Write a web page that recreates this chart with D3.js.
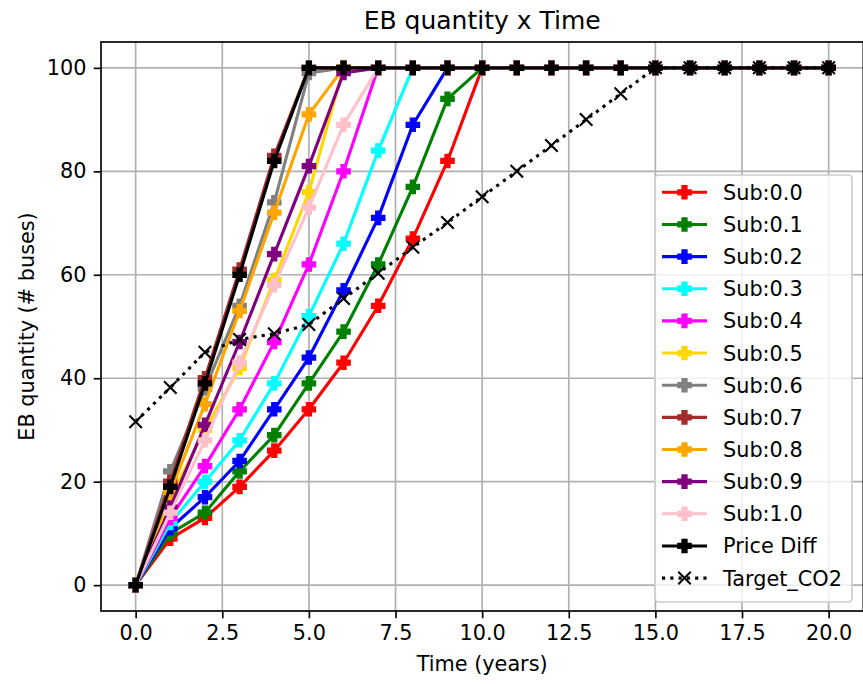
<!DOCTYPE html>
<html>
<head>
<meta charset="utf-8">
<script src="https://cdn.jsdelivr.net/npm/d3@7"></script>
<style>
    body { margin: 0; background: white; }
    text { font-family: "DejaVu Sans", sans-serif; }
</style>
</head>
<body>
<div id="main-chart"></div>
<script>
const years = [0, 1, 2, 3, 4, 5, 6, 7, 8, 9, 10, 11, 12, 13, 14, 15, 16, 17, 18, 19, 20];
const xTicks = [0, 2.5, 5, 7.5, 10, 12.5, 15, 17.5, 20];
const yTicks = [0, 20, 40, 60, 80, 100];

const sub00 = [0, 9, 13, 19, 26, 34, 43, 54, 67, 82, 100, 100, 100, 100, 100, 100, 100, 100, 100, 100, 100];
const sub01 = [0, 10, 14, 22, 29, 39, 49, 62, 77, 94, 100, 100, 100, 100, 100, 100, 100, 100, 100, 100, 100];
const sub02 = [0, 11, 17, 24, 34, 44, 57, 71, 89, 100, 100, 100, 100, 100, 100, 100, 100, 100, 100, 100, 100];
const sub03 = [0, 12, 20, 28, 39, 52, 66, 84, 100, 100, 100, 100, 100, 100, 100, 100, 100, 100, 100, 100, 100];
const sub04 = [0, 13, 23, 34, 47, 62, 80, 100, 100, 100, 100, 100, 100, 100, 100, 100, 100, 100, 100, 100, 100];
const sub05 = [0, 17, 30, 42, 59, 76, 100, 100, 100, 100, 100, 100, 100, 100, 100, 100, 100, 100, 100, 100, 100];
const sub06 = [0, 22, 38, 54, 74, 99, 100, 100, 100, 100, 100, 100, 100, 100, 100, 100, 100, 100, 100, 100, 100];
const sub07 = [0, 20, 40, 61, 83, 100, 100, 100, 100, 100, 100, 100, 100, 100, 100, 100, 100, 100, 100, 100, 100];
const sub08 = [0, 18, 35, 53, 72, 91, 100, 100, 100, 100, 100, 100, 100, 100, 100, 100, 100, 100, 100, 100, 100];
const sub09 = [0, 15, 31, 47, 64, 81, 99, 100, 100, 100, 100, 100, 100, 100, 100, 100, 100, 100, 100, 100, 100];
const sub10 = [0, 14, 28, 43, 58, 73, 89, 100, 100, 100, 100, 100, 100, 100, 100, 100, 100, 100, 100, 100, 100];
const priceDiff = [0, 19, 39, 60, 82, 100, 100, 100, 100, 100, 100, 100, 100, 100, 100, 100, 100, 100, 100, 100, 100];
const targetCO2 = [31.6, 38.2, 45, 47.5, 48.6, 50.4, 55.4, 60.3, 65.3, 70.1, 75.1, 80, 85, 90, 95, 100, 100, 100, 100, 100, 100];

const seriesNames = ["Sub:0.0", "Sub:0.1", "Sub:0.2", "Sub:0.3", "Sub:0.4", "Sub:0.5",
    "Sub:0.6", "Sub:0.7", "Sub:0.8", "Sub:0.9", "Sub:1.0", "Price Diff", "Target_CO2"];
const seriesColors = ["red", "green", "blue", "cyan", "magenta", "gold",
    "gray", "brown", "orange", "purple", "pink", "black", "black"];
const seriesValues = [sub00, sub01, sub02, sub03, sub04, sub05, sub06, sub07, sub08, sub09, sub10, priceDiff, targetCO2];

const series = seriesNames.map((name, i) => ({
    name: name,
    color: seriesColors[i],
    dotted: name === "Target_CO2",
    points: years.map((t, j) => ({t: t, v: seriesValues[i][j]}))
}));

const W = 863, H = 684;
const margin = {top: 42, right: -0.3, bottom: 73, left: 101};
const width = W - margin.left - margin.right;
const height = H - margin.top - margin.bottom;
const fs = 20.8;
const lw = 3.125;
const gridW = 1.67;

const svg = d3.select("#main-chart")
    .append("svg")
    .attr("width", W)
    .attr("height", H);

const g = svg.append("g")
    .attr("transform", `translate(${margin.left},${margin.top})`);

const x = d3.scaleLinear()
    .domain([-1, 21])
    .range([0, width]);

const y = d3.scaleLinear()
    .domain([-5, 105])
    .range([height, 0]);

// grid
g.append("g")
    .selectAll("line")
    .data(xTicks)
    .join("line")
    .attr("x1", d => x(d)).attr("x2", d => x(d))
    .attr("y1", 0).attr("y2", height)
    .attr("stroke", "#b0b0b0")
    .attr("stroke-width", gridW);

g.append("g")
    .selectAll("line")
    .data(yTicks)
    .join("line")
    .attr("x1", 0).attr("x2", width)
    .attr("y1", d => y(d)).attr("y2", d => y(d))
    .attr("stroke", "#b0b0b0")
    .attr("stroke-width", gridW);

// axes
const xAxis = g.append("g")
    .attr("transform", `translate(0,${height})`)
    .call(d3.axisBottom(x).tickValues(xTicks).tickFormat(d3.format(".1f")).tickSize(7.3).tickPadding(7.3));

const yAxis = g.append("g")
    .call(d3.axisLeft(y).tickValues(yTicks).tickFormat(d3.format("d")).tickSize(7.3).tickPadding(7.3));

[xAxis, yAxis].forEach(a => {
    a.select(".domain").remove();
    a.selectAll(".tick line").attr("stroke", "black").attr("stroke-width", gridW);
    a.selectAll(".tick text")
        .attr("fill", "black")
        .style("font-size", fs + "px")
        .style("font-family", "DejaVu Sans");
});

// spines
g.append("rect")
    .attr("x", 0).attr("y", 0)
    .attr("width", width).attr("height", height)
    .attr("fill", "none")
    .attr("stroke", "black")
    .attr("stroke-width", gridW);

// lines + markers
const line = d3.line()
    .x(d => x(d.t))
    .y(d => y(d.v));

const ms = 12.5;
const a = ms / 2, b = ms / 6;
const plusPath = `M${-b},${-a}L${b},${-a}L${b},${-b}L${a},${-b}L${a},${b}L${b},${b}L${b},${a}L${-b},${a}L${-b},${b}L${-a},${b}L${-a},${-b}L${-b},${-b}Z`;
const crossPath = `M${-a},${-a}L${a},${a}M${-a},${a}L${a},${-a}`;

const plotArea = g.append("g");

series.forEach(s => {
    const grp = plotArea.append("g");
    grp.append("path")
        .datum(s.points)
        .attr("d", line)
        .attr("fill", "none")
        .attr("stroke", s.color)
        .attr("stroke-width", lw)
        .attr("stroke-dasharray", s.dotted ? `${lw},${lw * 1.65}` : null)
        .attr("stroke-linejoin", "round");

    grp.selectAll(".mk")
        .data(s.points)
        .join("path")
        .attr("class", "mk")
        .attr("transform", d => `translate(${x(d.t)},${y(d.v)})`)
        .attr("d", s.dotted ? crossPath : plusPath)
        .attr("fill", s.dotted ? "none" : s.color)
        .attr("stroke", s.color)
        .attr("stroke-width", 2.1);
});

// title & labels
svg.append("text")
    .attr("x", margin.left + width / 2)
    .attr("y", 29)
    .attr("text-anchor", "middle")
    .style("font-size", "25px")
    .text("EB quantity x Time");

svg.append("text")
    .attr("x", margin.left + width / 2)
    .attr("y", 671)
    .attr("text-anchor", "middle")
    .style("font-size", fs + "px")
    .text("Time (years)");

svg.append("text")
    .attr("transform", `translate(34,${margin.top + height / 2}) rotate(-90)`)
    .attr("text-anchor", "middle")
    .style("font-size", fs + "px")
    .text("EB quantity (# buses)");

// legend
const legend = svg.append("g");
legend.append("rect")
    .attr("x", 655).attr("y", 175)
    .attr("width", 197).attr("height", 427)
    .attr("rx", 4)
    .attr("fill", "white")
    .attr("fill-opacity", 0.8)
    .attr("stroke", "#cccccc")
    .attr("stroke-width", 1.67);

series.forEach((s, i) => {
    const ly = 192.3 + i * 32.15;
    const row = legend.append("g").attr("transform", `translate(0,${ly})`);
    row.append("line")
        .attr("x1", 662).attr("x2", 707)
        .attr("y1", 0).attr("y2", 0)
        .attr("stroke", s.color)
        .attr("stroke-width", lw)
        .attr("stroke-dasharray", s.dotted ? `${lw},${lw * 1.65}` : null);
    row.append("path")
        .attr("transform", "translate(684.5,0)")
        .attr("d", s.dotted ? crossPath : plusPath)
        .attr("fill", s.dotted ? "none" : s.color)
        .attr("stroke", s.color)
        .attr("stroke-width", 2.1);
    row.append("text")
        .attr("x", 723)
        .attr("y", 7.5)
        .style("font-size", fs + "px")
        .text(s.name);
});
</script>
</body>
</html>
